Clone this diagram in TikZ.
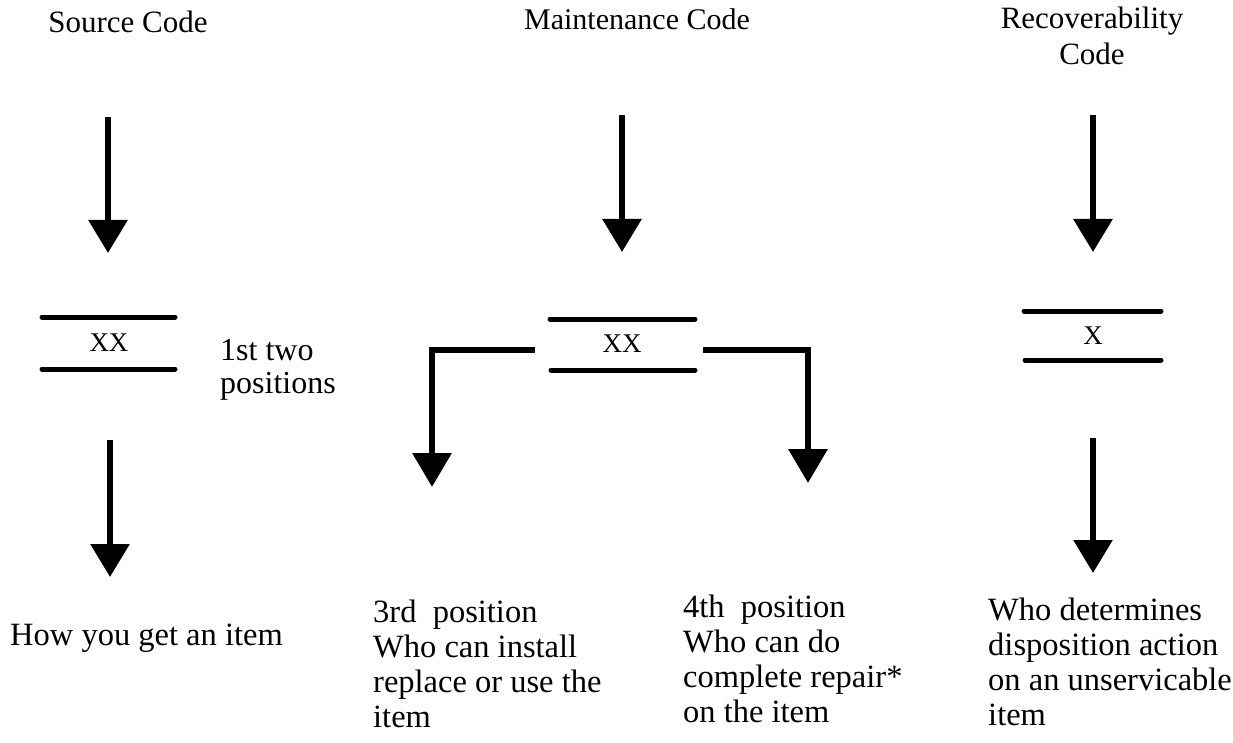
\documentclass[tikz,border=0pt]{standalone}
\usepackage{fontspec}
\setmainfont{Liberation Serif}
\usetikzlibrary{arrows.meta}
\begin{document}
\begin{tikzpicture}[x=1pt,y=-1pt,
  arr/.style={line width=6pt, -{Triangle[width=38pt,length=33pt]}},
  brk/.style={line width=6.5pt, line join=miter, -{Triangle[width=38pt,length=34pt]}},
  bar/.style={line width=5pt, line cap=round},
  title/.style={inner sep=0pt, font=\fontsize{31}{36}\selectfont, align=center},
  body/.style={inner sep=0pt, font=\fontsize{32.5}{35}\selectfont, align=left, anchor=base west},
  code/.style={inner sep=0pt, font=\fontsize{27}{30}\selectfont}]
\useasboundingbox (0,0) rectangle (1233,743);

% titles
\node[title, anchor=base] (tsrc) at (128,33) {Source Code};
\node[title, anchor=base, font=\fontsize{30}{33}\selectfont] (tmnt) at (637,30) {Maintenance Code};
\node[title, anchor=base] (trec) at (1092,65) {Recoverability\\Code};

% upper arrows
\coordinate (a1s) at (108,117); \coordinate (a1e) at (108,253);
\coordinate (a2s) at (622,115); \coordinate (a2e) at (622,252);
\coordinate (a3s) at (1093,115); \coordinate (a3e) at (1093,252);
\draw[arr] (a1s) -- (a1e);
\draw[arr] (a2s) -- (a2e);
\draw[arr] (a3s) -- (a3e);

% code boxes
\node[code] (xs) at (109,343) {XX};
\draw[bar] (42,317) -- (175,317);
\draw[bar] (42,369) -- (175,369);
\node[code] (xm) at (622,344) {XX};
\draw[bar] (550,319) -- (695,319);
\draw[bar] (551,370) -- (695,370);
\node[code] (xr) at (1093,336) {X};
\draw[bar] (1024,311) -- (1161,311);
\draw[bar] (1025,360) -- (1161,360);

\node[body, font=\fontsize{32}{33}\selectfont] (pos12) at (220,393) {1st two\\positions};

% lower arrows
\coordinate (b1s) at (110,440); \coordinate (b1e) at (110,577);
\coordinate (b3s) at (1093,438); \coordinate (b3e) at (1093,573);
\draw[arr] (b1s) -- (b1e);
\draw[arr] (b3s) -- (b3e);

% maintenance branches
\coordinate (ml0) at (535,350); \coordinate (ml1) at (432,350); \coordinate (ml2) at (432,487);
\coordinate (mr0) at (703,350); \coordinate (mr1) at (808,350); \coordinate (mr2) at (808,483);
\draw[brk] (ml0) -- (ml1) -- (ml2);
\draw[brk] (mr0) -- (mr1) -- (mr2);

% descriptions
\node[body] (how) at (10,645) {How you get an item};
\node[body] (p3) at (373,727) {3rd\ \ position\\Who can install\\replace or use the\\item};
\node[body] (p4) at (683,722) {4th\ \ position\\Who can do\\complete repair*\\on the item};
\node[body] (dis) at (988,725) {Who determines\\disposition action\\on an unservicable\\item};
\end{tikzpicture}
\end{document}
